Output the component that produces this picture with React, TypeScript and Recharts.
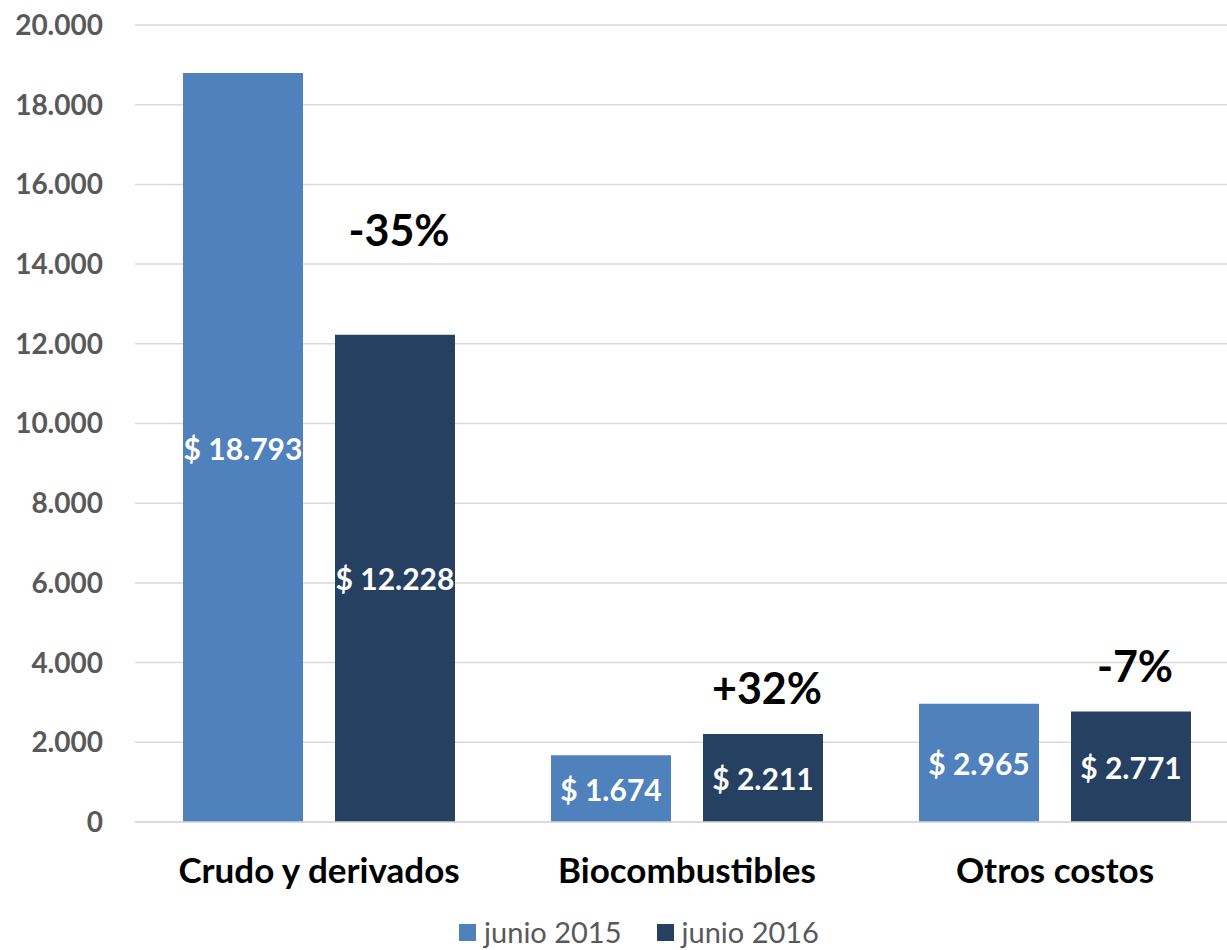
import { BarChart, Bar, XAxis, YAxis, CartesianGrid, Legend, LabelList } from "recharts";

const categories = ["Crudo y derivados", "Biocombustibles", "Otros costos"];
const junio2015 = [18793, 1674, 2965];
const junio2016 = [12228, 2211, 2771];
const variacion = ["-35%", "+32%", "-7%"];
const yTicks = [0, 2000, 4000, 6000, 8000, 10000, 12000, 14000, 16000, 18000, 20000];
const seriesNames = ["junio 2015", "junio 2016"];

const data = categories.map((name, i) => ({
    name,
    j2015: junio2015[i],
    j2016: junio2016[i],
    pct: variacion[i],
}));

const COLORS = ["#4F81BD", "#264061"];
const FONT = "Lato, 'Open Sans', sans-serif";

const fmt = (v: number) => v.toLocaleString("de-DE");

const ValueLabel = (props: any) => {
    const { x, y, width, height, value } = props;
    return (
        <text
            x={x + width / 2}
            y={y + height / 2}
            fill="#fff"
            fontSize={30}
            fontWeight="bold"
            fontFamily={FONT}
            textAnchor="middle"
            dominantBaseline="central"
        >
            {"$ " + fmt(value)}
        </text>
    );
};

const PctLabel = (props: any) => {
    const { x, y, width, index } = props;
    // the first one sits higher in the original
    const dy = index === 0 ? -105 : -46;
    return (
        <text
            x={x + width / 2 + 4}
            y={y + dy}
            fill="#000"
            fontSize={43}
            fontWeight="bold"
            fontFamily={FONT}
            textAnchor="middle"
            dominantBaseline="central"
        >
            {data[index].pct}
        </text>
    );
};

const LegendBox = () => (
    <div
        style={{
            display: "flex",
            justifyContent: "center",
            paddingLeft: 51,
            paddingTop: 6,
            fontFamily: FONT,
            fontSize: 29,
            lineHeight: "32px",
            color: "#595959",
        }}
    >
        {seriesNames.map((s, i) => (
            <div key={s} style={{ display: "flex", alignItems: "center", marginRight: i === 0 ? 35 : 0 }}>
                <span style={{ width: 17, height: 17, background: COLORS[i], marginRight: 8, display: "inline-block" }} />
                <span>{s}</span>
            </div>
        ))}
    </div>
);

export default function App() {
    return (
        <div style={{ position: "absolute", top: 0, left: 0, width: 1227, height: 950, overflow: "hidden", background: "#fff" }}>
            <BarChart
                width={1239}
                height={950}
                data={data}
                margin={{ top: 25, right: 0, left: 0, bottom: 0 }}
                barSize={120}
                barGap={32}
                barCategoryGap={48}
            >
                <CartesianGrid vertical={false} stroke="#D9D9D9" strokeWidth={1.5} />
                <XAxis
                    dataKey="name"
                    height={88}
                    tickLine={false}
                    axisLine={{ stroke: "#D9D9D9", strokeWidth: 1.5 }}
                    tickMargin={30}
                    tick={{ fill: "#000", fontSize: 35, fontWeight: "bold", fontFamily: FONT }}
                />
                <YAxis
                    width={135}
                    domain={[0, 20000]}
                    ticks={yTicks}
                    tickFormatter={fmt}
                    tickLine={false}
                    axisLine={false}
                    tickMargin={26}
                    tick={{ fill: "#595959", fontSize: 28, fontWeight: "bold", fontFamily: FONT }}
                />
                <Legend
                    verticalAlign="bottom"
                    height={40}
                    wrapperStyle={{ left: 0, width: 1227 }}
                    content={LegendBox}
                />
                <Bar dataKey="j2015" name={seriesNames[0]} fill={COLORS[0]} isAnimationActive={false}>
                    <LabelList dataKey="j2015" content={ValueLabel} />
                </Bar>
                <Bar dataKey="j2016" name={seriesNames[1]} fill={COLORS[1]} isAnimationActive={false}>
                    <LabelList dataKey="j2016" content={ValueLabel} />
                    <LabelList dataKey="pct" content={PctLabel} />
                </Bar>
            </BarChart>
        </div>
    );
}
